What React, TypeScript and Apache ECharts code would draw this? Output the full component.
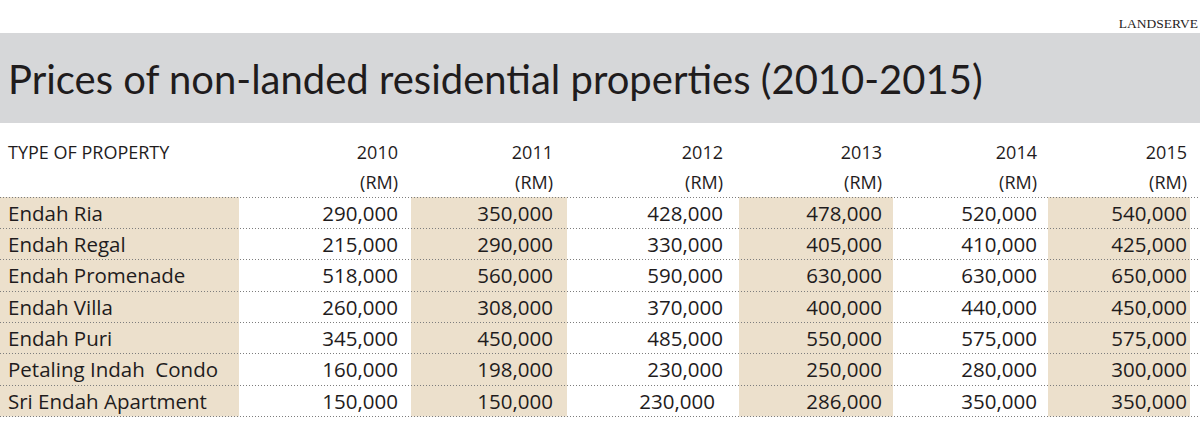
import React, { useEffect, useRef } from "react";
import * as echarts from "echarts";

// ---- data ----
const SOURCE = "LANDSERVE";
const TITLE = "Prices of non-landed residential properties (2010-2015)";
const HEADER_LABEL = "TYPE OF PROPERTY";
const UNIT = "(RM)";
const YEARS = ["2010", "2011", "2012", "2013", "2014", "2015"];
const PROPERTIES = [
  "Endah Ria",
  "Endah Regal",
  "Endah Promenade",
  "Endah Villa",
  "Endah Puri",
  "Petaling Indah  Condo",
  "Sri Endah Apartment",
];
const PRICES_2010 = [290000, 215000, 518000, 260000, 345000, 160000, 150000];
const PRICES_2011 = [350000, 290000, 560000, 308000, 450000, 198000, 150000];
const PRICES_2012 = [428000, 330000, 590000, 370000, 485000, 230000, 230000];
const PRICES_2013 = [478000, 405000, 630000, 400000, 550000, 250000, 286000];
const PRICES_2014 = [520000, 410000, 630000, 440000, 575000, 280000, 350000];
const PRICES_2015 = [540000, 425000, 650000, 450000, 575000, 300000, 350000];

// ---- layout (pixel positions on a 0..1200 x scale) ----
const COL_RIGHT = [398, 553, 723, 882, 1037, 1187];
const SHADED = [
  [0, 239],
  [411, 567],
  [739, 893],
  [1048, 1190],
];
const CELL_NUDGE: Record<string, number> = { "6-2": -8 };

const INK = "#1f1c1d";
const BEIGE = "#ece0cc";
const BAND = "#d6d7d9";
const DOT = "#7d7d7d";
const BODY_FONT = '"Open Sans"';

export default function App() {
  const ref = useRef<HTMLDivElement>(null);

  useEffect(() => {
    const chart = echarts.init(ref.current!, null, { renderer: "svg" });
    const priceCols = [PRICES_2010, PRICES_2011, PRICES_2012, PRICES_2013, PRICES_2014, PRICES_2015];
    const cellData: any[] = [];
    PROPERTIES.forEach((_, i) => {
      priceCols.forEach((col, j) => {
        cellData.push([j, i, col[i]]);
      });
    });

    const headerGraphics: any[] = [];
    headerGraphics.push({
      type: "text",
      x: 8,
      y: 152,
      style: { text: HEADER_LABEL, font: `18px ${BODY_FONT}`, fill: INK, align: "left", verticalAlign: "middle" },
    });
    YEARS.forEach((y, j) => {
      headerGraphics.push({
        type: "text",
        x: COL_RIGHT[j],
        y: 152,
        style: { text: y, font: `18px ${BODY_FONT}`, fill: INK, align: "right", verticalAlign: "middle" },
      });
      headerGraphics.push({
        type: "text",
        x: COL_RIGHT[j],
        y: 182,
        style: { text: UNIT, font: `18px ${BODY_FONT}`, fill: INK, align: "right", verticalAlign: "middle" },
      });
    });

    const option: any = {
      animation: false,
      backgroundColor: "#ffffff",
      grid: { left: 0, right: 0, top: 197, height: 219.4, containLabel: false },
      xAxis: { type: "value", min: 0, max: 1200, show: false },
      yAxis: {
        type: "category",
        data: PROPERTIES,
        inverse: true,
        z: 5,
        axisLine: { show: false },
        axisTick: { show: false },
        axisLabel: {
          inside: true,
          margin: 8,
          align: "left",
          verticalAlign: "middle",
          fontFamily: "Open Sans",
          fontSize: 20.5,
          color: INK,
        },
        splitLine: { show: true, lineStyle: { color: DOT, width: 1, type: [1, 2] } },
      },
      graphic: [
        { type: "rect", shape: { x: 0, y: 33, width: 1200, height: 90 }, style: { fill: BAND }, z: -1 },
        {
          type: "text",
          x: 1198,
          y: 23.5,
          style: { text: SOURCE, font: '13.5px "Liberation Serif"', fill: INK, align: "right", verticalAlign: "middle" },
        },
        {
          type: "text",
          x: 8,
          y: 78.5,
          style: { text: TITLE, font: "40px Lato", fill: INK, align: "left", verticalAlign: "middle" },
        },
        ...headerGraphics,
      ],
      series: [
        {
          type: "custom",
          z: 0,
          silent: true,
          clip: false,
          data: SHADED.map((_, k) => [k, 0]),
          renderItem: (params: any, api: any) => {
            const k = api.value(0);
            const cs = params.coordSys;
            const x0 = api.coord([SHADED[k][0], 0])[0];
            const x1 = api.coord([SHADED[k][1], 0])[0];
            return {
              type: "rect",
              shape: { x: x0, y: cs.y, width: x1 - x0, height: cs.height },
              style: { fill: BEIGE },
            };
          },
        },
        {
          type: "custom",
          z: 10,
          silent: true,
          clip: false,
          data: cellData,
          renderItem: (_params: any, api: any) => {
            const j = api.value(0);
            const i = api.value(1);
            const v = api.value(2);
            const nudge = CELL_NUDGE[`${i}-${j}`] || 0;
            const p = api.coord([COL_RIGHT[j] + nudge, i]);
            return {
              type: "text",
              x: p[0],
              y: p[1],
              style: {
                text: Number(v).toLocaleString("en-US"),
                font: `20.5px ${BODY_FONT}`,
                fill: INK,
                align: "right",
                verticalAlign: "middle",
              },
            };
          },
        },
      ],
    };
    chart.setOption(option);
    return () => chart.dispose();
  }, []);

  return <div ref={ref} style={{ position: "fixed", left: 0, top: 0, width: 1200, height: 425 }} />;
}
